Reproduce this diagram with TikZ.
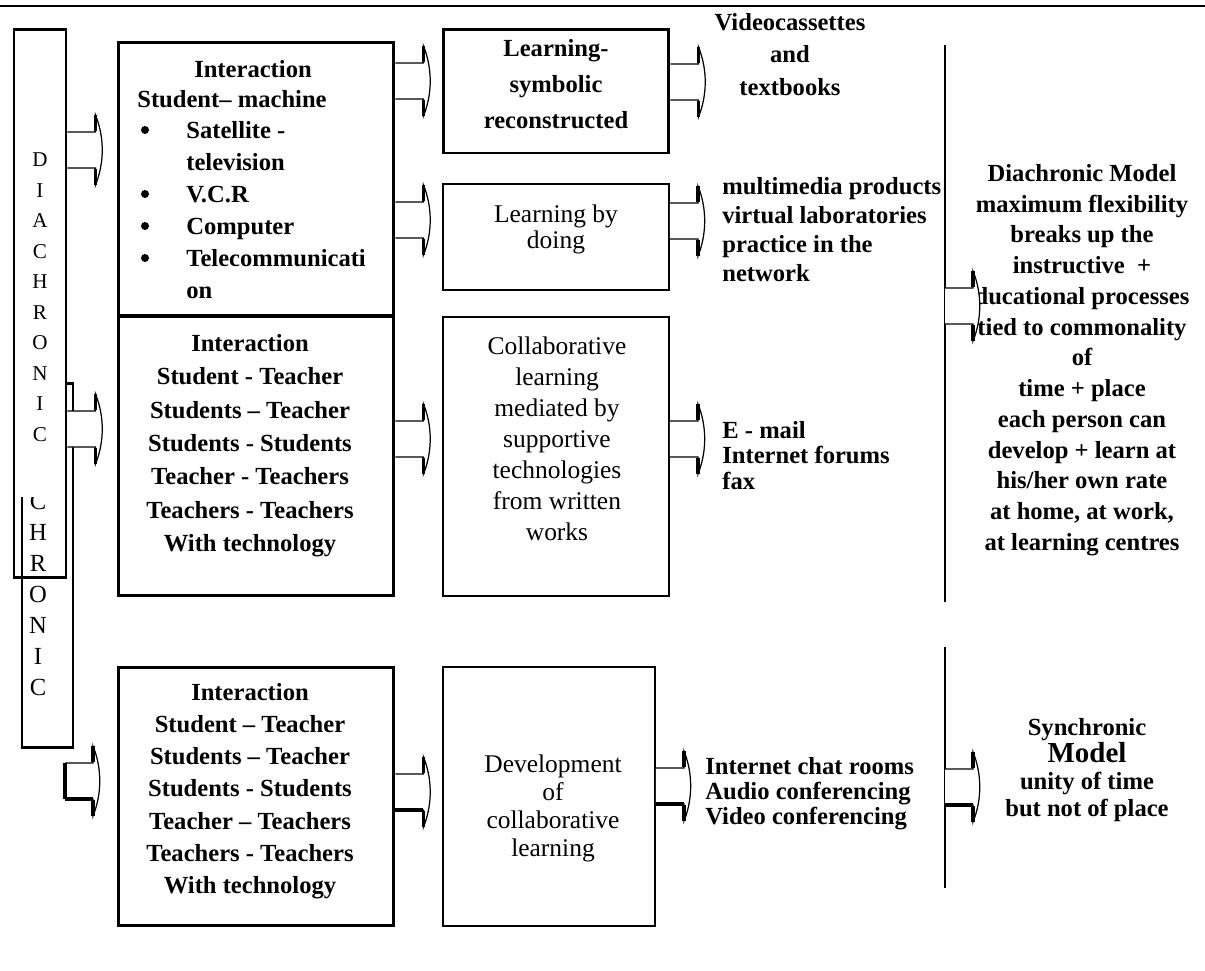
\documentclass[tikz,border=0pt]{standalone}
\usepackage{fontspec}
\setmainfont{Liberation Serif}
\usetikzlibrary{positioning, calc}

\tikzset{
  box/.style={draw, line width=1.7pt, inner sep=0pt},
  thinbox/.style={draw, line width=1.1pt, inner sep=0pt},
  txt/.style={align=center, inner sep=0pt, font=\fontsize{14}{#1}\selectfont\bfseries},
  txt/.default=17.5pt,
  plain/.style={align=center, inner sep=0pt, font=\fontsize{14.5}{#1}\selectfont},
  plain/.default=17pt,
  letter/.style={inner sep=0pt, font=\fontsize{12}{12}\selectfont},
  bigletter/.style={inner sep=0pt, font=\fontsize{14}{14}\selectfont},
  arrowline/.style={line width=0.7pt, fill=white},
  spike/.style={line width=1.8pt},
}

% block arrow, #2 = middle of its left end
\newcommand{\blkarrow}[2][]{%
  \draw[arrowline,#1] #2 ++(0,-18) -- ++(28,0) -- ++(0,-17)
     .. controls +(9,22) and +(9,-22) .. ++(0,70) -- ++(0,-17) -- ++(-28,0);
  \draw[spike] #2 ++(28,-35) -- ++(0,16) ++(0,38) -- ++(0,16);
}
% heavier lower edge on some arrows
\newcommand{\blkshadow}[1]{%
  \draw[spike] #1 ++(0,18) -- ++(28,0);
}

\begin{document}
\begin{tikzpicture}[x=0.02cm, y=-0.02cm]
  \useasboundingbox (0,0) rectangle (1205,971);
  % rule on top
  \draw[line width=1.7pt] (0,6) -- (1205,6);

  % the two upright bars
  \node[box, minimum width=1.02cm, minimum height=7.3cm] (synbox) at (47.5,565.5) {};
  \foreach \ch [count=\k from 0] in {C,H,R,O,N,I,C} {
    \node[bigletter] (s\k) at (38,501+31*\k) {\ch};
  }
  \fill[white] (14,29) rectangle (66,497);
  \node[box, minimum width=1.04cm, minimum height=10.98cm] (diabox) at (40,303.5) {};
  \foreach \ch [count=\k from 0] in {D,I,A,C,H,R,O,N,I,C} {
    \node[letter] (d\k) at (40,160+30.5*\k) {\ch};
  }

  % first column
  \node[box, minimum width=5.52cm, minimum height=5.48cm] (inter1) at (256,179) {};
  \node[box, minimum width=5.52cm, minimum height=5.6cm] (inter2) at (256,456) {};
  \node[box, minimum width=5.52cm, minimum height=5.18cm] (inter3) at (256,796.5) {};

  \node[txt, anchor=base] (i1a) at (253,77) {Interaction};
  \node[txt, anchor=base] (i1b) at (232,107) {Student-- machine};
  \node[txt=18.2pt, align=left, anchor=north west] (i1c) at (186,121)
    {Satellite -\\television\\V.C.R\\Computer\\Telecommunicati\\on};
  \foreach \yb in {130,194,226,258} {
    \fill (145,\yb) circle[radius=0.08cm];
  }
  \node[txt=19pt, anchor=north] (i2) at (250,334)
    {Interaction\\Student - Teacher\\Students -- Teacher\\Students - Students\\
     Teacher - Teachers\\Teachers - Teachers\\With technology};
  \node[txt=18.3pt, anchor=north] (i3) at (250,683)
    {Interaction\\Student -- Teacher\\Students -- Teacher\\Students - Students\\
     Teacher -- Teachers\\Teachers - Teachers\\With technology};

  % second column
  \node[box, minimum width=4.52cm, minimum height=2.48cm] (symb) at (556,91) {};
  \node[thinbox, minimum width=4.52cm, minimum height=2.12cm] (doing) at (556,237) {};
  \node[thinbox, minimum width=4.52cm, minimum height=5.58cm] (collab) at (556,456.5) {};
  \node[thinbox, minimum width=4.24cm, minimum height=5.18cm] (devel) at (549,796.5) {};

  \node[txt=20.5pt, anchor=north] (symbt) at (556,39) {Learning-\\symbolic\\reconstructed};
  \node[plain=15pt, anchor=north] (doingt) at (556,204) {Learning by\\doing};
  \node[plain=17.7pt, anchor=north] (collabt) at (557,336)
    {Collaborative\\learning\\mediated by\\supportive\\technologies\\from written\\works};
  \node[plain=16pt, anchor=north] (develt) at (553,754)
    {Development\\of\\collaborative\\learning};

  % third column
  \node[txt=18.5pt, anchor=north] (media1) at (790,13) {Videocassettes\\and\\textbooks};
  \node[txt=16.5pt, align=left, anchor=north west] (media2) at (722,177)
    {multimedia products\\virtual laboratories\\practice in the\\network};
  \node[txt=14.5pt, align=left, anchor=north west] (media3) at (722,421)
    {E - mail\\Internet forums\\fax};
  \node[txt=14.2pt, align=left, anchor=north west] (media4) at (705,757)
    {Internet chat rooms\\Audio conferencing\\Video conferencing};

  % models
  \coordinate (sepA) at (945,45);
  \coordinate (sepB) at (945,602);
  \coordinate (sepC) at (945,647);
  \coordinate (sepD) at (945,888);
  \draw[line width=1.1pt] (sepA) -- (sepB);
  \draw[line width=1.1pt] (sepC) -- (sepD);
  \node[txt=17.5pt, anchor=north] (diamodel) at (1082,164)
    {Diachronic Model\\maximum flexibility\\breaks up the\\instructive \ +\\
     ducational processes\\tied to commonality\\of\\time + place\\each person can\\
     develop + learn at\\his/her own rate\\at home, at work,\\at learning centres};
  \node[txt=15.4pt, anchor=north] (synmodel) at (1087,718)
    {Synchronic\\{\fontsize{16.5}{16.5}\selectfont\bfseries Model}\\unity of time\\but not of place};

  % arrows
  \blkarrow{(diabox.east |- 0,150)}
  \blkarrow{(diabox.east |- 0,429)}
  \coordinate (startC) at (65,781);
  \blkarrow{(startC)}
  \draw[spike] (startC) ++(0,-18) -- ++(0,36);
  \blkshadow{(startC)}
  \blkarrow{(inter1.east |- 0,81)}
  \blkarrow{(inter1.east |- 0,220)}
  \blkarrow{(inter2.east |- 0,439)}
  \blkarrow{(inter3.east |- 0,792)}
  \blkshadow{(inter3.east |- 0,792)}
  \blkarrow{(symb.east |- 0,82)}
  \blkarrow{(doing.east |- 0,221)}
  \blkarrow{(collab.east |- 0,439)}
  \blkarrow{(devel.east |- 0,786)}
  \blkshadow{(devel.east |- 0,786)}
  \blkarrow{(sepA |- 0,306)}
  \blkarrow{(sepC |- 0,787)}
  \blkshadow{(sepC |- 0,787)}
\end{tikzpicture}
\end{document}
